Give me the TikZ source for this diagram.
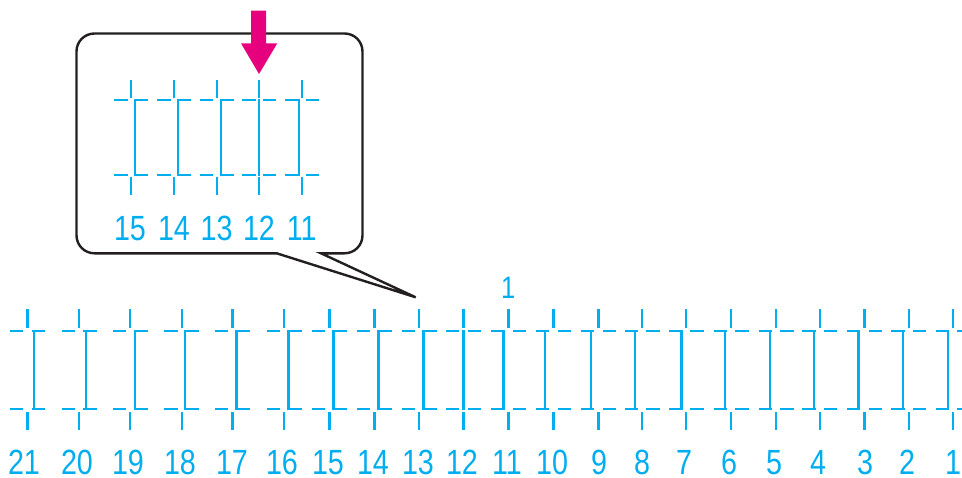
\documentclass[tikz,border=0pt]{standalone}
\usepackage{fontspec}
\newfontfamily\numfont[FakeStretch=0.82]{Liberation Sans}
\definecolor{cy}{HTML}{00AEEF}
\definecolor{mg}{HTML}{E6007E}
\definecolor{ink}{HTML}{231F20}
\tikzset{
  pat/.style={draw=cy, line width=2.4pt},
  ipat/.style={draw=cy, line width=2.0pt},
  lab/.style={text=cy, font=\numfont\fontsize{35}{35}\selectfont, inner sep=0pt, anchor=base, text depth=0pt},
  toplab/.style={text=cy, font=\numfont\fontsize{31}{31}\selectfont, inner sep=0pt, anchor=base},
  bubble/.style={draw=ink, line width=2.4pt, line join=miter},
  pointer/.style={fill=mg}
}
\begin{document}
\begin{tikzpicture}[x=1pt,y=-1pt]
\useasboundingbox (0,0) rectangle (962,477);
% bottom row of patterns
\foreach \x/\d/\n/\lx in {27.3/6.7/21/24, 79/6.7/20/77, 130/5/19/128, 181.7/3.5/18/180,
  232.3/4.3/17/232, 284/4.3/16/282, 329.3/4/15/328, 374.3/4/14/373, 419/4.3/13/418,
  463.3/0/12/462, 508.3/-5/11/507, 553.3/-8.3/10/552, 598.3/-7.3/9/599, 642/-7.3/8/642,
  686/-4.7/7/684, 731/-6.3/6/729, 776/-6.3/5/774, 819.7/-6/4/818, 864.3/-5.7/3/865,
  908.7/-5.7/2/907, 953/-5/1/953}{
  \draw[pat] (\x,309) -- (\x,328);
  \draw[pat] ({\x-17.5},331) -- ({\x-4.2},331);
  \draw[pat] ({\x+4.2},331) -- ({\x+17.5},331);
  \draw[pat] ({\x-17.5},409) -- ({\x-4.2},409);
  \draw[pat] ({\x+4.2},409) -- ({\x+17.5},409);
  \draw[pat] ({\x+(\d)},329.9) -- ({\x+(\d)},410.1);
  \draw[pat] (\x,412) -- (\x,430);
  \node[lab] (b\n) at (\lx,474) {\n};
}
\node[toplab] (top1) at (508.3,298) {1};
% speech bubble
\draw[bubble] (276.7,253.3) -- (94.5,253.3)
  .. controls (84.5,253.3) and (76.5,245.3) .. (76.5,235.3) -- (76.5,51.5)
  .. controls (76.5,41.5) and (84.5,33.5) .. (94.5,33.5) -- (344.5,33.5)
  .. controls (354.5,33.5) and (362.5,41.5) .. (362.5,51.5) -- (362.5,235.3)
  .. controls (362.5,245.3) and (354.5,253.3) .. (344.5,253.3) -- (321,253.3)
  -- (415.7,297.3) -- cycle;
% inset patterns
\foreach \x/\d/\n/\lx in {131/3.8/15/130, 174/3.8/14/174, 216.7/3.8/13/216.7,
  259.3/0/12/259, 302.3/-3.8/11/301.7}{
  \draw[ipat] (\x,80) -- (\x,98);
  \draw[ipat] ({\x-17},100) -- ({\x-3.5},100);
  \draw[ipat] ({\x+3.5},100) -- ({\x+17},100);
  \draw[ipat] ({\x-17},175) -- ({\x-3.5},175);
  \draw[ipat] ({\x+3.5},175) -- ({\x+17},175);
  \draw[ipat] ({\x+(\d)},99) -- ({\x+(\d)},176);
  \draw[ipat] (\x,177) -- (\x,195);
  \node[lab] (i\n) at (\lx,240) {\n};
}
% magenta arrow
\fill[pointer] (251.2,10.5) -- (266.2,10.5) -- (266.2,43.3) -- (277.3,43.3)
  -- (259,74) -- (241,43.3) -- (251.2,43.3) -- cycle;
\end{tikzpicture}
\end{document}
